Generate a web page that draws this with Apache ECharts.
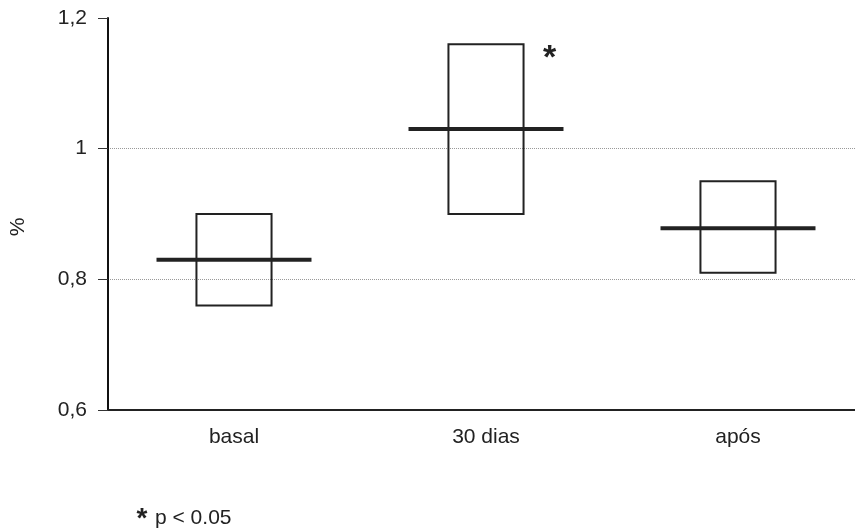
<!DOCTYPE html>
<html>
<head>
<meta charset="utf-8">
<script src="https://cdn.jsdelivr.net/npm/echarts@6/dist/echarts.min.js"></script>
<style>html,body{margin:0;padding:0;background:#fff}#c{width:855px;height:531px}</style>
</head>
<body>
<div id="c"></div>
<script>
const categories = ['basal', '30 dias', 'após'];
const boxLow = [0.76, 0.90, 0.81];
const boxHigh = [0.90, 1.16, 0.95];
const medians = [0.83, 1.03, 0.878];
const significance = ['', '*', ''];
const yTicks = [0.6, 0.8, 1.0, 1.2];

const FONT = 'Liberation Sans, Arial, sans-serif';
const chart = echarts.init(document.getElementById('c'));
const data = categories.map((c, i) => [i, boxLow[i], boxHigh[i], medians[i], significance[i]]);

chart.setOption({
  animation: false,
  grid: { left: 108, right: -9, top: 18, bottom: 121, outerBoundsMode: 'none', containLabel: false },
  xAxis: {
    type: 'category',
    data: categories,
    axisLine: { lineStyle: { color: '#222', width: 2 } },
    axisTick: { show: false },
    axisLabel: { color: '#222', fontSize: 21, fontFamily: FONT, margin: 17 },
    splitLine: { show: false }
  },
  yAxis: {
    type: 'value',
    min: yTicks[0], max: yTicks[yTicks.length - 1], interval: 0.2,
    axisLine: { show: true, lineStyle: { color: '#111', width: 2 } },
    axisTick: { show: true, length: 10, lineStyle: { color: '#333', width: 1 } },
    axisLabel: {
      color: '#222', fontSize: 21, fontFamily: FONT, margin: 21,
      formatter: v => {
        const r = Math.round(v * 10) / 10;
        return (r === 1 ? '1' : r.toFixed(1)).replace('.', ',');
      }
    },
    splitLine: { show: true, lineStyle: { color: ['transparent', '#999', '#999', 'transparent'], type: 'dotted', width: 1 } }
  },
  series: [{
    type: 'custom',
    data: data,
    encode: { x: 0, y: [1, 2, 3] },
    renderItem: function (params, api) {
      const idx = api.value(0);
      const lo = api.coord([idx, api.value(1)]);
      const hi = api.coord([idx, api.value(2)]);
      const md = api.coord([idx, api.value(3)]);
      const band = api.size([1, 0])[0];
      const bw = band * 0.298;
      const lw = band * 0.615;
      const cx = lo[0];
      const children = [
        { type: 'rect', shape: { x: cx - bw / 2, y: hi[1], width: bw, height: lo[1] - hi[1] },
          style: { fill: 'none', stroke: '#222', lineWidth: 2 } },
        { type: 'line', shape: { x1: cx - lw / 2, y1: md[1], x2: cx + lw / 2, y2: md[1] },
          style: { stroke: '#222', lineWidth: 4 } }
      ];
      const sig = data[params.dataIndex][4];
      if (sig) {
        children.push({ type: 'text', x: cx + bw / 2 + 26, y: hi[1] + 14,
          style: { text: sig, fontSize: 34, fontWeight: 'bold', fontFamily: FONT, fill: '#222', align: 'center', verticalAlign: 'middle' } });
      }
      return { type: 'group', children: children };
    }
  }],
  graphic: [
    { type: 'text', x: 18, y: 227, rotation: Math.PI / 2,
      style: { text: '%', fontSize: 21, fontFamily: FONT, fill: '#222', align: 'center', verticalAlign: 'middle' } },
    { type: 'text', x: 142, y: 519,
      style: { text: '*', fontSize: 28, fontWeight: 'bold', fontFamily: FONT, fill: '#222', align: 'center', verticalAlign: 'middle' } },
    { type: 'text', x: 155, y: 518,
      style: { text: 'p < 0.05', fontSize: 21, fontFamily: FONT, fill: '#222', align: 'left', verticalAlign: 'middle' } }
  ]
});
</script>
</body>
</html>
